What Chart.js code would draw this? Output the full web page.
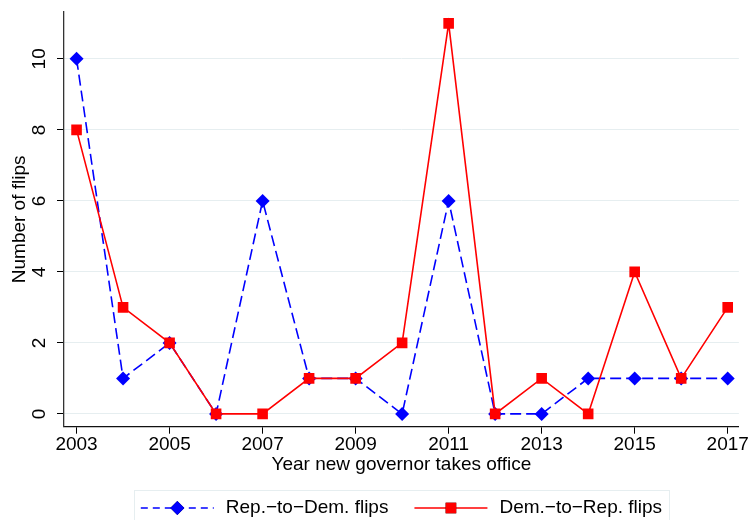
<!DOCTYPE html>
<html lang="en">
<head>
    <meta charset="UTF-8">
    <title>Governor flips by year</title>
    <script src="https://cdn.jsdelivr.net/npm/chart.js"></script>
    <style>
        html, body { margin: 0; padding: 0; background: #fff; }
        #wrap { width: 749px; height: 520px; }
    </style>
</head>
<body>
    <div id="wrap"><canvas id="flipsChart" width="749" height="520"></canvas></div>

    <script>
        // Year new governor takes office
        const years = [2003, 2004, 2005, 2006, 2007, 2008, 2009, 2010, 2011, 2012, 2013, 2014, 2015, 2016, 2017];
        const repToDem = [10, 1, 2, 0, 6, 1, 1, 0, 6, 0, 0, 1, 1, 1, 1];
        const demToRep = [8, 3, 2, 0, 0, 1, 1, 2, 11, 0, 1, 0, 4, 1, 3];
        const xTicks = [2003, 2005, 2007, 2009, 2011, 2013, 2015, 2017];
        const yTicks = [0, 2, 4, 6, 8, 10];

        const FONT = "'Liberation Sans', Arial, Helvetica, sans-serif";
        const gridColor = '#e6eef0';

        const toPoints = vals => years.map((yr, i) => ({x: yr, y: vals[i]}));

        // legend in a thin frame under the plot, centred on the plot area
        const frameLegend = {
            id: 'frameLegend',
            afterDraw(chart) {
                const ctx = chart.ctx;
                const area = chart.chartArea;
                const lineLen = 73, gap = 12, itemGap = 26, pad = 7;
                const cy = 508;
                ctx.save();
                ctx.font = '19px ' + FONT;
                const items = chart.data.datasets.map(ds => ({ds, w: ctx.measureText(ds.label).width}));
                let total = items.reduce((s, it) => s + lineLen + gap + it.w, 0) + itemGap * (items.length - 1);
                let x = (area.left + area.right) / 2 - total / 2;

                ctx.strokeStyle = gridColor;
                ctx.lineWidth = 1;
                ctx.strokeRect(Math.round(x - pad) + 0.5, 490.5, Math.round(total + 2 * pad), 40);

                items.forEach(it => {
                    const ds = it.ds;
                    ctx.strokeStyle = ds.borderColor;
                    ctx.lineWidth = ds.borderWidth;
                    ctx.setLineDash(ds.borderDash && ds.borderDash.length ? [7, 5] : []);
                    ctx.beginPath();
                    ctx.moveTo(x, cy);
                    ctx.lineTo(x + lineLen, cy);
                    ctx.stroke();
                    ctx.setLineDash([]);
                    Chart.helpers.drawPoint(ctx, {
                        pointStyle: ds.pointStyle,
                        radius: ds.pointRadius,
                        borderWidth: 0,
                        rotation: 0
                    }, x + lineLen / 2, cy);
                    ctx.fillStyle = ds.pointBackgroundColor;
                    ctx.fill();
                    ctx.fillStyle = '#000';
                    ctx.textBaseline = 'middle';
                    ctx.textAlign = 'left';
                    ctx.fillText(ds.label, x + lineLen + gap, cy);
                    x += lineLen + gap + it.w + itemGap;
                });
                ctx.restore();
            }
        };

        new Chart(document.getElementById('flipsChart'), {
            type: 'line',
            data: {
                datasets: [{
                    label: 'Rep.\u2212to\u2212Dem. flips',
                    data: toPoints(repToDem),
                    borderColor: '#0000ff',
                    borderWidth: 1.6,
                    borderDash: [11, 5],
                    pointStyle: 'rectRot',
                    pointRadius: 7,
                    pointBackgroundColor: '#0000ff',
                    pointBorderWidth: 0,
                    order: 1
                }, {
                    label: 'Dem.\u2212to\u2212Rep. flips',
                    data: toPoints(demToRep),
                    borderColor: '#ff0000',
                    borderWidth: 1.6,
                    pointStyle: 'rect',
                    pointRadius: 7.5,
                    pointBackgroundColor: '#ff0000',
                    pointBorderWidth: 0,
                    order: 0
                }]
            },
            options: {
                responsive: false,
                animation: false,
                tension: 0,
                layout: {padding: {top: 12, right: 10, bottom: 43.6, left: 0}},
                plugins: {
                    legend: {display: false},
                    tooltip: {enabled: false}
                },
                scales: {
                    x: {
                        type: 'linear',
                        min: 2002.73,
                        max: 2017.24,
                        afterBuildTicks: s => { s.ticks = xTicks.map(v => ({value: v})); },
                        afterFit: s => { s.height = 49.7; },
                        grid: {drawOnChartArea: false, drawTicks: true, tickLength: 7, tickColor: '#000', tickWidth: 1},
                        border: {color: '#111', width: 1.3},
                        ticks: {
                            color: '#000',
                            padding: 0,
                            maxRotation: 0,
                            font: {family: FONT, size: 19},
                            callback: v => String(v)
                        },
                        title: {
                            display: true,
                            text: 'Year new governor takes office',
                            color: '#000',
                            padding: {top: 0, bottom: 0},
                            font: {family: FONT, size: 19}
                        }
                    },
                    y: {
                        min: -0.36,
                        max: 11.32,
                        afterBuildTicks: s => { s.ticks = yTicks.map(v => ({value: v})); },
                        afterFit: s => { s.width = 64; s.paddingTop = 0; s.paddingBottom = 0; },
                        grid: {color: gridColor, lineWidth: 1, tickLength: 7, tickColor: '#000', tickWidth: 1},
                        border: {color: '#333', width: 1.3},
                        ticks: {
                            color: '#000',
                            padding: 6.5,
                            minRotation: 90,
                            maxRotation: 90,
                            crossAlign: 'center',
                            font: {family: FONT, size: 19},
                            callback: v => String(v)
                        },
                        title: {
                            display: true,
                            text: 'Number of flips',
                            color: '#000',
                            padding: {top: 8.6, bottom: 0},
                            font: {family: FONT, size: 19}
                        }
                    }
                }
            },
            plugins: [frameLegend]
        });
    </script>
</body>
</html>
